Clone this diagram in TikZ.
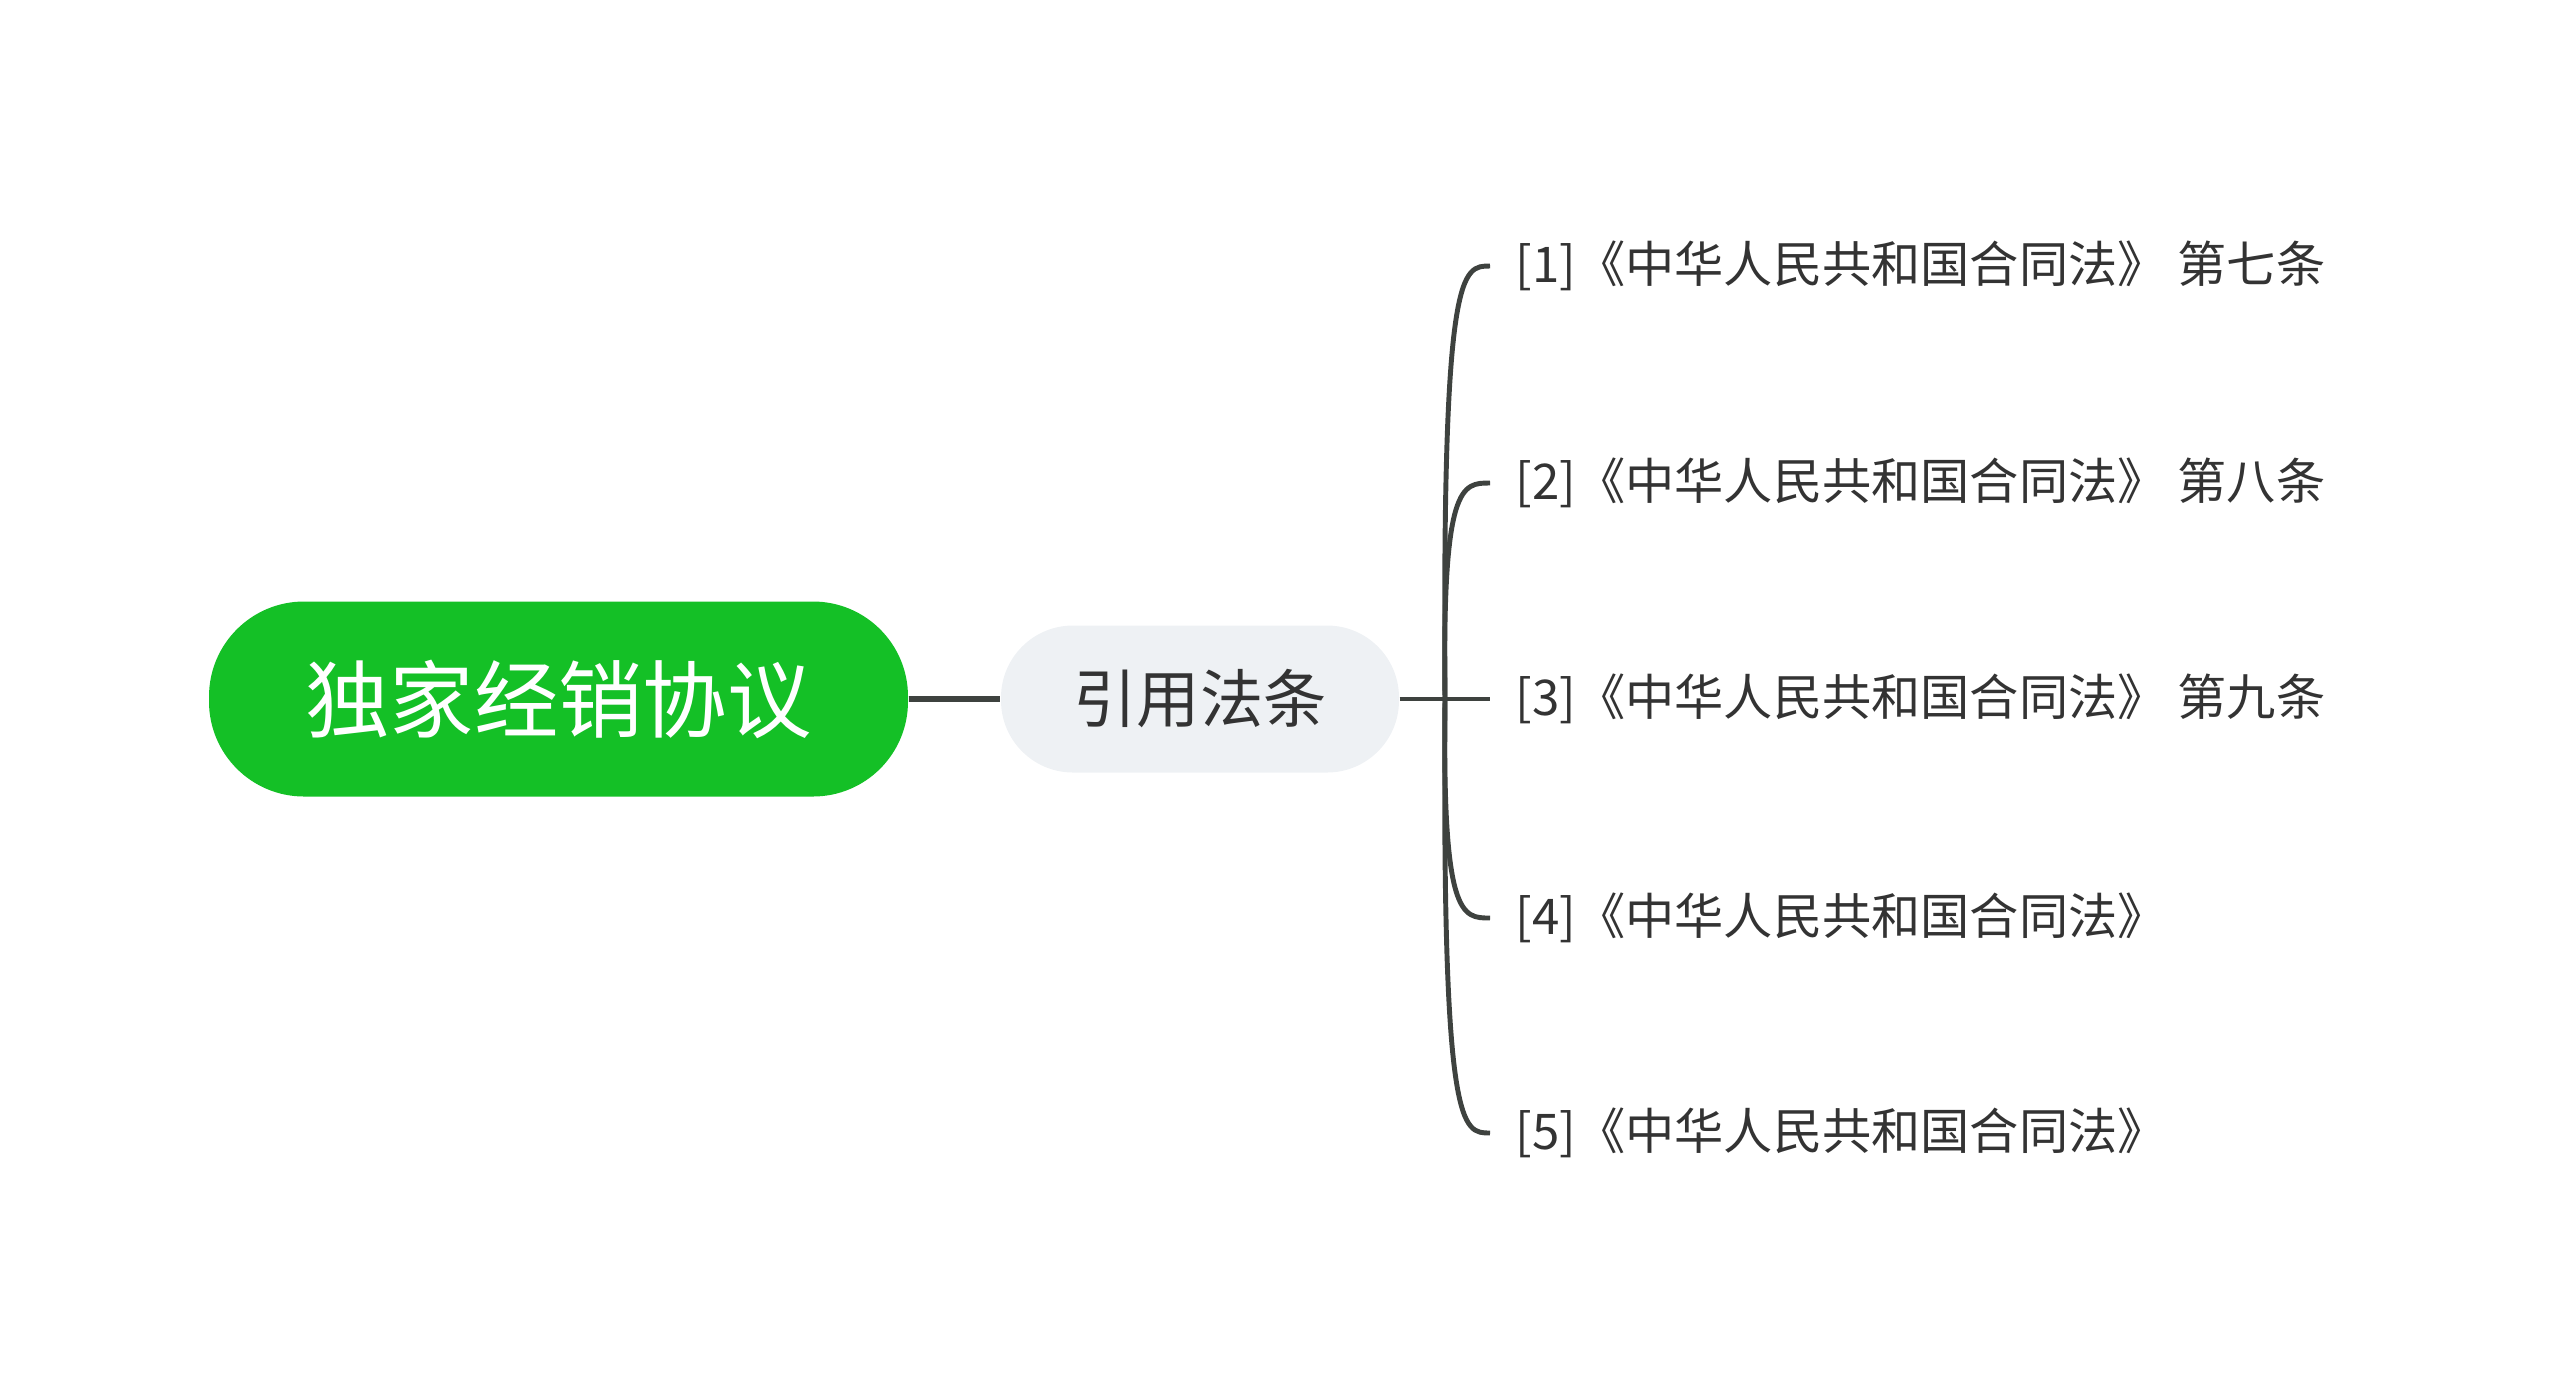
\documentclass[tikz,border=0pt]{standalone}
\usepackage{fontspec}
\setmainfont{Noto Sans CJK SC}
\usetikzlibrary{positioning}

\definecolor{rootgreen}{RGB}{20,192,38}
\definecolor{topicgray}{RGB}{238,241,244}
\definecolor{inkgray}{RGB}{51,51,51}
\definecolor{linegray}{RGB}{62,66,63}

\begin{document}
\begin{tikzpicture}[
  root/.style={fill=rootgreen, text=white, rounded corners=9.5mm, minimum width=69.9mm, minimum height=19.5mm, font=\fontsize{24}{24}\selectfont},
  topic/.style={fill=topicgray, text=inkgray, rounded corners=7.2mm, minimum width=39.8mm, minimum height=14.7mm, font=\fontsize{18}{18}\selectfont},
  leaf/.style={anchor=west, inner sep=0pt, text=inkgray, font=\fontsize{14}{14}\selectfont},
  link/.style={draw=linegray, line width=1.4pt}
]
\useasboundingbox (0,0) rectangle (25.6,-13.99);

\node[root] (law) at (5.585,-6.99) {独家经销协议};
\node[topic] (cite) at (12.0,-6.99) {引用法条};

\coordinate (hub) at (14.45,-6.99);

\node[leaf] (art7) at (15.15,-2.66) {[1]《中华人民共和国合同法》 第七条};
\node[leaf] (art8) at (15.15,-4.83) {[2]《中华人民共和国合同法》 第八条};
\node[leaf] (art9) at (15.15,-6.99) {[3]《中华人民共和国合同法》 第九条};
\node[leaf] (art0) at (15.15,-9.18) {[4]《中华人民共和国合同法》};
\node[leaf] (artx) at (15.15,-11.33) {[5]《中华人民共和国合同法》};

\draw[link, line width=1.6pt] (law.east) -- (cite.west);
\draw[link] (cite.east) -- (hub);

\draw[link] (hub) .. controls (14.42,-2.66) and (14.62,-2.66) .. ([xshift=-2.5mm]art7.west);
\draw[link] (hub) .. controls (14.42,-4.83) and (14.62,-4.83) .. ([xshift=-2.5mm]art8.west);
\draw[link] (hub) -- ([xshift=-2.5mm]art9.west);
\draw[link] (hub) .. controls (14.42,-9.18) and (14.62,-9.18) .. ([xshift=-2.5mm]art0.west);
\draw[link] (hub) .. controls (14.42,-11.33) and (14.62,-11.33) .. ([xshift=-2.5mm]artx.west);

\end{tikzpicture}
\end{document}
